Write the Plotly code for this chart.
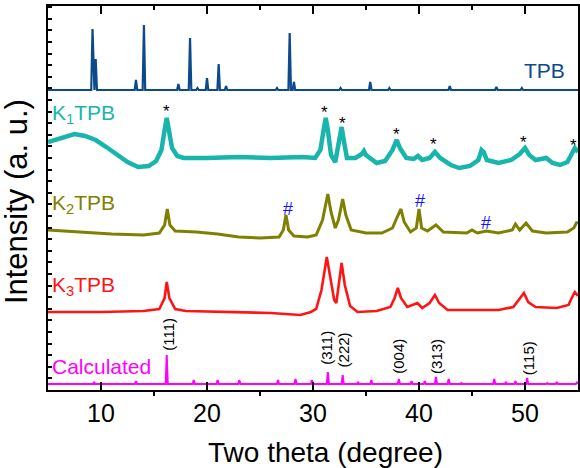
import plotly.graph_objects as go

# ---------------- data (two theta in degrees, intensity in stacked arbitrary units) -------------
# TPB stick-like pattern: peak positions and heights above its baseline
tpb_pos = [9.2, 9.5, 13.3, 14.05, 17.3, 18.4, 19.1, 20.0, 21.1, 21.8, 26.6, 27.8, 28.2,
           32.6, 35.4, 37.2, 42.9, 47.3, 49.7]
tpb_h = [61, 31, 10, 65, 6, 52, 2, 12, 26, 4, 2, 57, 8,
         2, 8, 2, 4, 3, 2]
tpb_base = 300

# K1TPB
k1_x = [5.0, 6.0, 7.0, 7.5, 8.5, 9.5, 10.5, 11.5, 12.5, 13.5, 14.5, 15.2, 15.7, 16.0, 16.2, 16.4,
        16.7, 17.2, 17.8, 20, 23, 26, 29, 30.2, 30.7, 31.0, 31.2, 31.4, 31.7, 32.1, 32.4, 32.7,
        32.9, 33.2, 34.0, 34.6, 34.8, 35.0, 36.0, 36.8, 37.5, 37.9, 38.2, 38.8, 39.5, 39.9, 40.3,
        41.0, 41.5, 42.0, 43.0, 43.8, 44.8, 45.6, 45.9, 46.1, 46.4, 47.5, 48.7, 49.5, 50.0, 50.4,
        51.0, 52.0, 52.6, 53.3, 54.0, 54.4, 54.7, 55.0]
k1_y = [248, 251, 255, 256, 254, 250, 243, 235, 228, 223, 224, 229, 240, 260, 272, 260,
        242, 234, 232, 232, 233, 232, 233, 232, 240, 260, 272, 260, 235, 228, 245, 263,
        250, 232, 232, 236, 239, 235, 227, 229, 240, 250, 242, 232, 231, 234, 230,
        232, 238, 232, 225, 222, 224, 230, 240, 238, 230, 227, 230, 236, 242, 235,
        230, 232, 227, 225, 228, 237, 242, 238]

# K2TPB
k2_x = [5.0, 8, 11, 14, 15.5, 16.0, 16.25, 16.5, 17.0, 19, 21, 23, 25, 26.8, 27.2, 27.45, 27.7,
        28.2, 29.5, 30.3, 30.9, 31.4, 31.7, 32.1, 32.4, 32.8, 33.1, 33.6, 35.0, 36.5, 37.5, 37.9,
        38.3, 38.6, 39.2, 39.75, 40.0, 40.25, 40.8, 41.6, 42.3, 44.5, 45.0, 45.5, 46.35, 47.5,
        48.8, 49.1, 49.5, 50.1, 50.7, 52, 54, 54.6, 54.9, 55.0]
k2_y = [160, 158, 156, 155, 157, 165, 181, 165, 159, 158, 156, 153, 152, 153, 160, 175, 160,
        154, 153, 155, 170, 196, 178, 162, 170, 191, 175, 160, 157, 157, 162, 172,
        181, 168, 158, 162, 181, 162, 159, 165, 158, 157, 160, 157, 159, 157,
        160, 166, 160, 167, 159, 157, 158, 162, 168, 166]

# K3TPB
k3_x = [5.0, 10, 14, 15.5, 16.0, 16.2, 16.45, 17.0, 18, 22, 26, 28.8, 29.8, 30.3, 30.8, 31.3,
        31.6, 32.0, 32.2, 32.5, 32.7, 33.0, 33.5, 34.2, 36.0, 37.3, 37.7, 38.0, 38.3, 38.9, 39.5,
        39.85, 40.3, 41.0, 41.5, 41.9, 42.7, 45, 47.5, 48.9, 49.6, 49.9, 50.3, 51.0, 53.0, 54.1,
        54.5, 54.7, 55.0]
k3_y = [78, 78, 79, 81, 92, 108, 92, 81, 79, 78, 77, 75, 78, 81, 100, 133,
        115, 90, 87, 110, 127, 105, 84, 78, 79, 83, 92, 102, 92, 83, 86,
        87, 82, 87, 95, 87, 80, 80, 80, 83, 92, 97, 88, 83, 82, 85,
        94, 98, 94]

# Calculated pattern: peak positions and heights above its baseline
calc_pos = [9.35, 13.3, 16.2, 18.75, 21.0, 23.05, 26.7, 28.35, 29.9, 31.4, 32.8, 34.25, 35.5,
            38.1, 39.3, 40.55, 41.6, 42.8, 44.0, 47.1, 48.2, 49.1, 50.2, 52.1, 53.0, 54.9]
calc_h = [2, 3, 29, 4, 4, 4, 4, 5, 4, 12, 9, 2, 4,
          5, 3, 3, 7, 5, 1, 5, 2, 3, 6, 1, 2, 2]
calc_base = 6

# annotations
star_x = [16.2, 31.1, 32.75, 37.9, 41.4, 49.9, 54.55]
star_y = [279, 278, 267, 256, 246, 248, 245]
hash_x = [27.62, 40.12, 46.33]
hash_y = [181, 189, 167]
hkl_labels = ["(111)", "(311)", "(222)", "(004)", "(313)", "(115)"]
hkl_x = [16.3, 31.2, 32.87, 38.0, 41.6, 50.3]
hkl_y = [56, 42, 40, 34, 34, 32]


def sticks(pos, h, base, half=0.12, lo=5.0, hi=55.0):
    xs, ys = [lo], [base]
    for p, v in zip(pos, h):
        xs += [p - half, p, p + half]
        ys += [base, base + v, base]
    xs.append(hi)
    ys.append(base)
    return xs, ys


FONT = "Liberation Sans, Arial, sans-serif"
C_TPB = "#0c4a8c"
C_K1 = "#17b5ab"
C_K2 = "#808000"
C_K3 = "#ff1414"
C_CALC = "#ff00ff"

fig = go.Figure()
tx, ty = sticks(tpb_pos, tpb_h, tpb_base)
fig.add_trace(go.Scatter(x=tx, y=ty, mode="lines", line=dict(color=C_TPB, width=2.2)))
fig.add_trace(go.Scatter(x=k1_x, y=k1_y, mode="lines", line=dict(color=C_K1, width=4.5)))
fig.add_trace(go.Scatter(x=k2_x, y=k2_y, mode="lines", line=dict(color=C_K2, width=3)))
fig.add_trace(go.Scatter(x=k3_x, y=k3_y, mode="lines", line=dict(color=C_K3, width=2.6)))
cx, cy = sticks(calc_pos, calc_h, calc_base, half=0.1)
fig.add_trace(go.Scatter(x=cx, y=cy, mode="lines", line=dict(color=C_CALC, width=2)))
# invisible trace on top axis to activate it
fig.add_trace(go.Scatter(x=[5, 55], y=[0, 0], mode="lines", line=dict(width=0),
                         xaxis="x2", hoverinfo="skip"))

ann = []
ann.append(dict(x=51.8, y=320, text="TPB", xanchor="center", yanchor="middle",
                font=dict(family=FONT, size=21, color=C_TPB), showarrow=False))
ann.append(dict(x=5.2, y=276, text="K<sub>1</sub>TPB", xanchor="left", yanchor="middle",
                font=dict(family=FONT, size=21, color=C_K1), showarrow=False))
ann.append(dict(x=5.2, y=186, text="K<sub>2</sub>TPB", xanchor="left", yanchor="middle",
                font=dict(family=FONT, size=21, color=C_K2), showarrow=False))
ann.append(dict(x=5.2, y=104, text="K<sub>3</sub>TPB", xanchor="left", yanchor="middle",
                font=dict(family=FONT, size=21, color=C_K3), showarrow=False))
ann.append(dict(x=5.2, y=24, text="Calculated", xanchor="left", yanchor="middle",
                font=dict(family=FONT, size=21, color=C_CALC), showarrow=False))
for x, y in zip(star_x, star_y):
    ann.append(dict(x=x, y=y, text="*", showarrow=False, xanchor="center", yanchor="middle",
                    font=dict(family=FONT, size=17, color="black")))
for x, y in zip(hash_x, hash_y):
    ann.append(dict(x=x, y=y, text="#", showarrow=False, xanchor="center", yanchor="middle",
                    font=dict(family=FONT, size=18, color="#1414ff")))
for t, x, y in zip(hkl_labels, hkl_x, hkl_y):
    ann.append(dict(x=x, y=y, text=t, showarrow=False, textangle=-90, xanchor="center",
                    yanchor="middle", font=dict(family=FONT, size=15, color="black")))
# axis titles
ann.append(dict(xref="paper", yref="paper", x=0.524, y=-0.162, text="Two theta (degree)",
                showarrow=False, xanchor="center", yanchor="middle",
                font=dict(family=FONT, size=28, color="black")))
ann.append(dict(xref="paper", yref="paper", x=-0.058, y=0.49, text="Intensity (a. u.)",
                showarrow=False, xanchor="center", yanchor="middle", textangle=-90,
                font=dict(family=FONT, size=31, color="black")))

fig.update_layout(
    width=580, height=468,
    margin=dict(l=48, r=0, t=6, b=78),
    paper_bgcolor="white", plot_bgcolor="white",
    showlegend=False,
    annotations=ann,
    xaxis=dict(range=[5, 55], showgrid=False, zeroline=False, showline=True,
               linecolor="black", linewidth=2, ticks="inside", ticklen=8, tickwidth=2,
               tickcolor="black", tickvals=[10, 20, 30, 40, 50],
               ticktext=["10", "20", "30", "40", "50"],
               tickfont=dict(family=FONT, size=25, color="black"),
               minor=dict(tickvals=[15, 25, 35, 45], ticks="outside", ticklen=4,
                          tickwidth=2, tickcolor="black"),
               mirror=False),
    xaxis2=dict(range=[5, 55], overlaying="x", side="top", showgrid=False, zeroline=False,
                showline=True, linecolor="black", linewidth=2, ticks="inside", ticklen=8,
                tickwidth=2, tickcolor="black", tickvals=[10, 20, 30, 40, 50],
                showticklabels=False,
                minor=dict(tickvals=[15, 25, 35, 45], ticks="inside", ticklen=4,
                           tickwidth=2, tickcolor="black")),
    yaxis=dict(range=[0, 384], showgrid=False, zeroline=False, showline=True,
               linecolor="black", linewidth=2, ticks="inside", ticklen=4, tickwidth=1.5,
               tickcolor="black", tick0=0, dtick=11.6, showticklabels=False,
               mirror=True),
)

fig.write_html("out.html", config={"displayModeBar": False},
               post_script="document.body.style.margin='0';document.body.style.overflow='hidden';")
